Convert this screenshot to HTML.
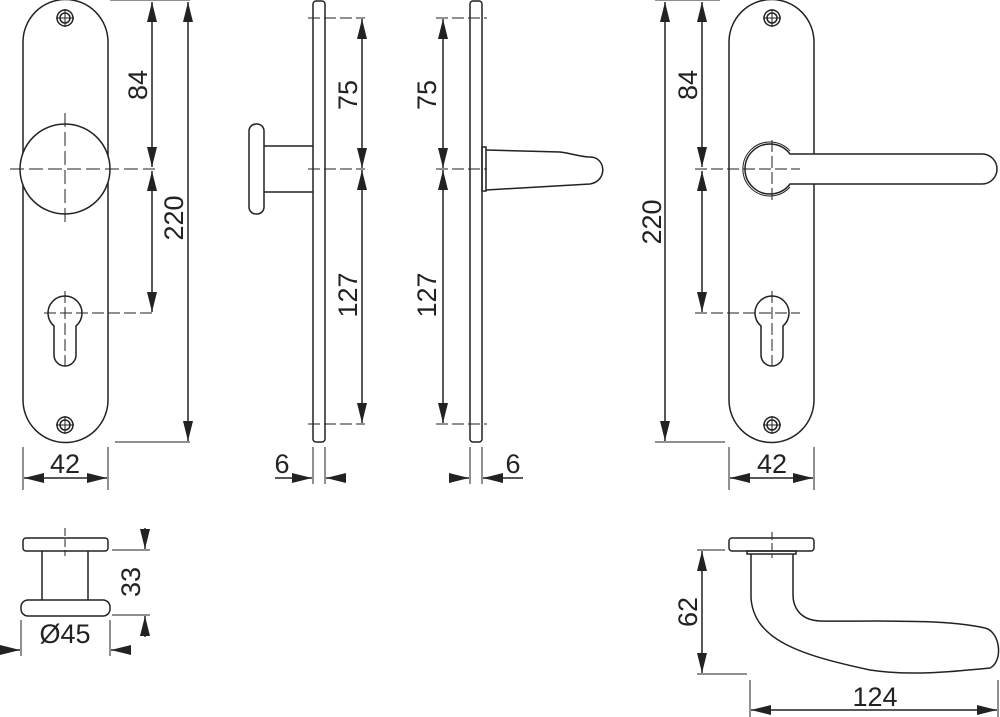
<!DOCTYPE html>
<html><head><meta charset="utf-8"><style>
html,body{margin:0;padding:0;background:#fff;}
svg{display:block;}
text{font-family:"Liberation Sans",sans-serif;font-size:27px;fill:#222;}
</style></head><body>
<svg width="1000" height="717" viewBox="0 0 1000 717" xmlns="http://www.w3.org/2000/svg">
<defs>
<marker id="a" viewBox="0 0 20 10" refX="20" refY="5" markerWidth="20" markerHeight="10" markerUnits="userSpaceOnUse" orient="auto-start-reverse"><path d="M0,0 L20,5 L0,10 Z" fill="#222"/></marker>
</defs>
<g fill="none" stroke="#222" stroke-width="1.5">
<!-- LEFT FRONT PLATE -->
<path d="M23,42 A42.5,42.5 0 0 1 108,42 L108,400 A42.5,42.5 0 0 1 23,400 Z"/>
<circle cx="65" cy="18" r="8"/><circle cx="65" cy="18" r="5"/>
<path d="M56,18H74M65,9V27" stroke-width="1"/>
<circle cx="65" cy="425" r="8"/><circle cx="65" cy="425" r="5"/>
<path d="M56,425H74M65,416V434" stroke-width="1"/>
<circle cx="65" cy="169" r="45" fill="#fff"/>
<path d="M10,169H155M65,113V225" stroke-dasharray="14,5" stroke-width="1"/>
<path d="M54,326 A17,17 0 1 1 76,326 L76,355 A11,11 0 0 1 54,355 Z"/>
<path d="M44,313H155M65,291V366" stroke-dasharray="12,4" stroke-width="1"/>
<path d="M110,0H190M115,442H190" stroke-width="1"/>
<path d="M152,2V167" marker-start="url(#a)" marker-end="url(#a)"/>
<path d="M152,171V312" marker-start="url(#a)" marker-end="url(#a)"/>
<path d="M188,2V441" marker-start="url(#a)" marker-end="url(#a)"/>
<path d="M23,447V490M108,447V490" stroke-width="1"/>
<path d="M24,478H107" marker-start="url(#a)" marker-end="url(#a)"/>

<!-- SIDE VIEW 1 -->
<rect x="313" y="1" width="12" height="441" rx="3"/>
<rect x="249" y="124" width="15" height="90" rx="7"/>
<path d="M264,146H313M264,192H313"/>
<path d="M308,18H365M308,169H365M308,424H365" stroke-dasharray="12,4" stroke-width="1"/>
<path d="M362,19V168" marker-start="url(#a)" marker-end="url(#a)"/>
<path d="M362,170V423" marker-start="url(#a)" marker-end="url(#a)"/>
<path d="M313,447V484M325,447V484" stroke-width="1"/>
<path d="M275,478H312" marker-end="url(#a)"/>
<path d="M346,478H326" marker-end="url(#a)"/>

<!-- SIDE VIEW 2 -->
<rect x="470" y="1" width="12" height="441" rx="3"/>
<rect x="482" y="147" width="4" height="44"/>
<path d="M486,150 L560,152 C575,154 580,157 590,157 C606,157 608,181 590,184 L486,190"/>
<path d="M436,18H487M436,169H487M436,424H487" stroke-dasharray="12,4" stroke-width="1"/>
<path d="M443,19V168" marker-start="url(#a)" marker-end="url(#a)"/>
<path d="M443,170V423" marker-start="url(#a)" marker-end="url(#a)"/>
<path d="M470,447V484M482,447V484" stroke-width="1"/>
<path d="M449,478H469" marker-end="url(#a)"/>
<path d="M523,478H483" marker-end="url(#a)"/>

<!-- RIGHT FRONT PLATE -->
<path d="M729,42 A42.5,42.5 0 0 1 814,42 L814,400 A42.5,42.5 0 0 1 729,400 Z"/>
<circle cx="772" cy="18" r="8"/><circle cx="772" cy="18" r="5"/>
<path d="M763,18H781M772,9V27" stroke-width="1"/>
<circle cx="772" cy="425" r="8"/><circle cx="772" cy="425" r="5"/>
<path d="M763,425H781M772,416V434" stroke-width="1"/>
<path d="M790,154 A25,25 0 1 0 790,184 L982,184 A15,15 0 0 0 982,154 Z" fill="#fff"/>
<path d="M790,151 A27,27 0 1 0 790,187" stroke-width="1"/>
<path d="M695,169H800M772,140V200" stroke-dasharray="12,4" stroke-width="1"/>
<path d="M761,326 A17,17 0 1 1 783,326 L783,355 A11,11 0 0 1 761,355 Z"/>
<path d="M695,313H800M772,291V366" stroke-dasharray="12,4" stroke-width="1"/>
<path d="M655,0H720M655,442H725" stroke-width="1"/>
<path d="M665,2V441" marker-start="url(#a)" marker-end="url(#a)"/>
<path d="M702,2V167" marker-start="url(#a)" marker-end="url(#a)"/>
<path d="M702,171V312" marker-start="url(#a)" marker-end="url(#a)"/>
<path d="M729,447V490M814,447V490" stroke-width="1"/>
<path d="M730,478H813" marker-start="url(#a)" marker-end="url(#a)"/>

<!-- BOTTOM LEFT KNOB -->
<rect x="23" y="538" width="85" height="13" rx="3"/>
<path d="M42,551V600M88,551V600"/>
<rect x="21" y="600" width="89" height="16" rx="7"/>
<path d="M65,528V556" stroke-dasharray="8,3" stroke-width="1"/>
<path d="M112,550H150M112,615H150" stroke-width="1"/>
<path d="M145,528V549" marker-end="url(#a)"/>
<path d="M145,637V616" marker-end="url(#a)"/>
<path d="M21,620V656M110,620V656" stroke-width="1"/>
<path d="M0,650H20" marker-end="url(#a)"/>
<path d="M130,650H111" marker-end="url(#a)"/>

<!-- BOTTOM RIGHT LEVER -->
<rect x="729" y="538" width="85" height="13" rx="3"/>
<rect x="747" y="551" width="49" height="3"/>
<path d="M772,532V558" stroke-dasharray="8,3" stroke-width="1"/>
<path d="M751,554 L751,598 C754,640 800,655 870,670 C910,676 950,672 990,668 C1003,662 1001,632 985,628 C940,618 860,622 820,621 C798,620 793,605 793,595 L793,554"/>
<path d="M697,550H725M697,674H747" stroke-width="1"/>
<path d="M702,551V673" marker-start="url(#a)" marker-end="url(#a)"/>
<path d="M750,680V717M998,680V717" stroke-width="1"/>
<path d="M751,710H997" marker-start="url(#a)" marker-end="url(#a)"/>
</g>

<!-- LABELS -->
<text transform="translate(147,85) rotate(-90)" text-anchor="middle">84</text>
<text transform="translate(183,218) rotate(-90)" text-anchor="middle">220</text>
<text x="65" y="473" text-anchor="middle">42</text>
<text transform="translate(357,95) rotate(-90)" text-anchor="middle">75</text>
<text transform="translate(357,295) rotate(-90)" text-anchor="middle">127</text>
<text x="282" y="473" text-anchor="middle">6</text>
<text transform="translate(436,95) rotate(-90)" text-anchor="middle">75</text>
<text transform="translate(436,295) rotate(-90)" text-anchor="middle">127</text>
<text x="513" y="473" text-anchor="middle">6</text>
<text transform="translate(661,222) rotate(-90)" text-anchor="middle">220</text>
<text transform="translate(697,85) rotate(-90)" text-anchor="middle">84</text>
<text x="772" y="473" text-anchor="middle">42</text>
<text transform="translate(140,582) rotate(-90)" text-anchor="middle">33</text>
<text x="65" y="643" text-anchor="middle">Ø45</text>
<text transform="translate(697,612) rotate(-90)" text-anchor="middle">62</text>
<text x="875" y="706" text-anchor="middle">124</text>
</svg>
</body></html>
